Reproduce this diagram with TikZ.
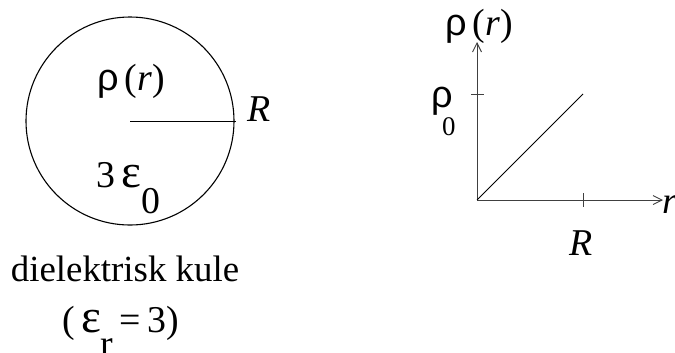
\documentclass[tikz,border=0pt]{standalone}
\usepackage{fontspec}
\setmainfont{Liberation Serif}
\newfontfamily\symf{Liberation Sans}
\usetikzlibrary{arrows.meta}
\newcommand{\myeps}{\scalebox{1.25}{ε}}
\begin{document}
\begin{tikzpicture}[x=1bp,y=-1bp,
  lbl/.style={inner sep=0pt,font=\fontsize{38}{40}\selectfont},
  sub/.style={inner sep=0pt,font=\fontsize{27}{30}\selectfont},
  ax/.style={line width=0.9bp,draw=black!75,-{Straight Barb[length=9bp,width=9bp]}},
  tick/.style={line width=0.9bp,draw=black!75},
  thin/.style={line width=1bp}]
\useasboundingbox (0,0) rectangle (675,352);
% sphere
\node[circle,draw,line width=1.1bp,minimum size=208bp,inner sep=0pt] (sph) at (130,121) {};
\coordinate (c) at (130,121);
\coordinate (rim) at (236,121);
\draw[thin] (c) -- (rim);
\node[lbl,anchor=base west] (Rl) at (247,121) {\itshape R};
\node[lbl,anchor=base] (rho) at (131,90) {{\symf ρ}\,(\textit{r})};
\node[lbl,anchor=base west] (eps) at (96,187) {3\,\myeps\raisebox{-26bp}{0}};
\node[inner sep=0pt,font=\fontsize{37}{40}\selectfont,anchor=base] (diel) at (125,281) {dielektrisk kule};
\node[lbl,anchor=base west] (epr) at (62,332) {(\,\myeps\raisebox{-24bp}{r}\,=\,3)};
% graph
\coordinate (O) at (477,200);
\coordinate (ytop) at (477,42);
\coordinate (xend) at (663,200);
\draw[ax] (O) -- (ytop);
\draw[ax] (O) -- (xend);
\coordinate (t1a) at (471,94);
\coordinate (t1b) at (484,94);
\coordinate (t2a) at (583,193);
\coordinate (t2b) at (583,207);
\coordinate (P) at (583,94);
\draw[tick] (t1a) -- (t1b);
\draw[tick] (t2a) -- (t2b);
\draw[thin] (O) -- (P);
\node[lbl,anchor=base] (rhoy) at (479,35) {{\symf ρ}\,(\textit{r})};
\node[lbl,anchor=base west] (rho0) at (431,107) {{\symf ρ}};
\node[sub,anchor=base west] (zero) at (442,135) {0};
\node[lbl,anchor=base] (Rx) at (581,255) {\itshape R};
\node[lbl,anchor=base west] (rx) at (662,213) {\itshape r};
\end{tikzpicture}
\end{document}
